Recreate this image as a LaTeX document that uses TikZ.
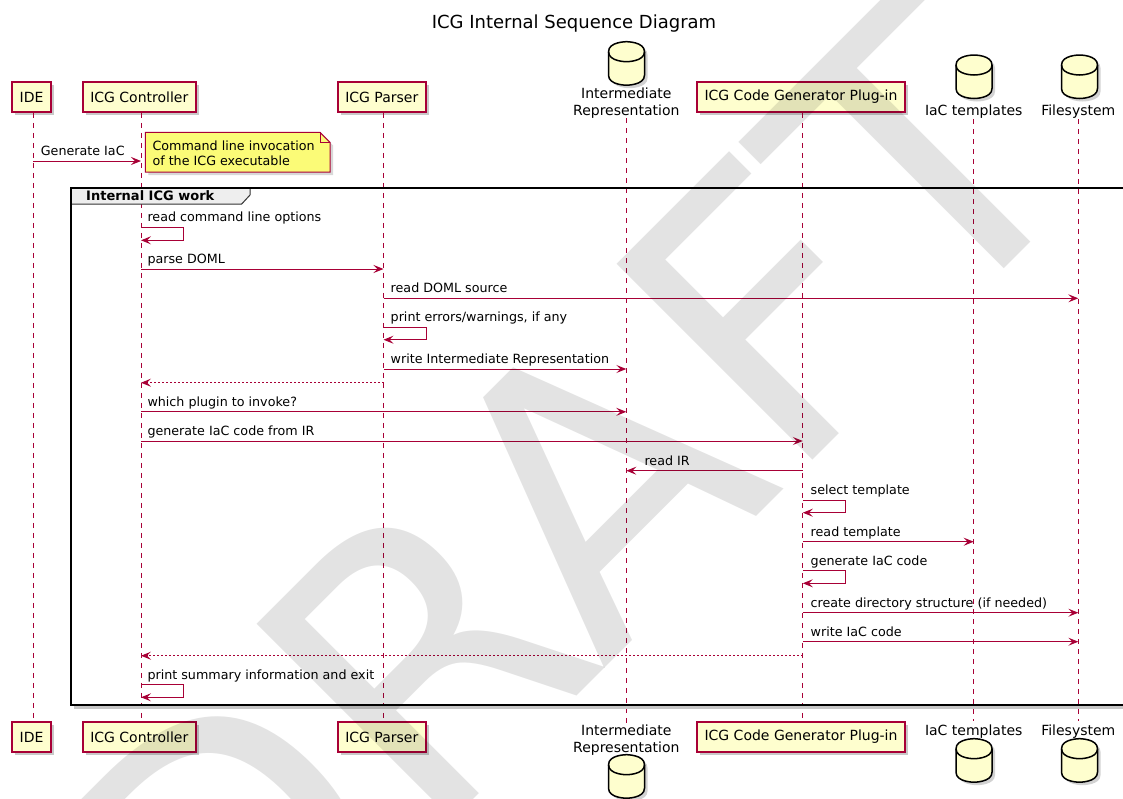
\documentclass[tikz,border=0pt]{standalone}
\usepackage{fontspec}
\setmainfont{DejaVu Sans}
\usetikzlibrary{arrows.meta,shadows}
\definecolor{pline}{HTML}{A80036}
\definecolor{pfill}{HTML}{FEFECE}
\definecolor{nfill}{HTML}{FBFB77}
\definecolor{tabfill}{HTML}{EEEEEE}
\newcommand\mydbshape[1]{\path[#1] (0,10) .. controls (0,0) and (18,0) .. (18,0) .. controls (18,0) and (36,0) .. (36,10) -- (36,33.5) .. controls (36,43.5) and (18,43.5) .. (18,43.5) .. controls (18,43.5) and (0,43.5) .. (0,33.5) -- cycle;}
\newcommand\mydb[2]{\begin{scope}[shift={(#1,#2)}]
 \begin{scope}[shift={(3,3)}]\mydbshape{fill=black!35,opacity=0.5}\end{scope}
 \mydbshape{fill=pfill,draw=black,line width=1.5pt}
 \draw[line width=1.5pt] (0,10) .. controls (0,20) and (18,20) .. (18,20) .. controls (18,20) and (36,20) .. (36,10);
\end{scope}}
\begin{document}
\begin{tikzpicture}[x=1pt,y=-1pt,
 part/.style={draw=pline,line width=1.5pt,fill=pfill,minimum height=30pt,inner xsep=7.5pt,inner ysep=0pt,font=\fontsize{14}{16.5}\selectfont,drop shadow={shadow xshift=3pt,shadow yshift=-3pt,opacity=0.35,fill=black!60}},
 dblabel/.style={inner sep=0pt,align=center,font=\fontsize{14}{16.5}\selectfont},
 msg/.style={draw=pline,line width=1pt,-{Stealth[length=10pt,width=8pt,inset=4pt]}},
 ret/.style={msg,dash pattern=on 2pt off 2pt},
 lbl/.style={anchor=base west,inner sep=0pt,font=\fontsize{12.7}{15}\selectfont},
 life/.style={draw=pline,line width=1pt,dash pattern=on 5pt off 5pt}]
\useasboundingbox (0,0) rectangle (1123,798);
\fill[white] (0,0) rectangle (1123,798);
\def\xA{33.3}\def\xB{141}\def\xC{383.5}\def\xD{626.3}\def\xE{802.8}\def\xF{973.7}\def\xG{1078.3}
% title
\node[anchor=base,inner sep=0pt,font=\fontsize{18}{20}\selectfont] (title) at (574,28) {ICG Internal Sequence Diagram};
% participants top
\node[part] (ideT) at (31.6,97) {IDE};
\node[part] (ctrlT) at (139.3,97) {ICG Controller};
\node[part] (parT) at (381.8,97) {ICG Parser};
\node[part] (plugT) at (801,97) {ICG Code Generator Plug-in};
\mydb{608.5}{41.7}
\mydb{956}{55}
\mydb{1061.5}{55}
\node[dblabel,anchor=north] (irT) at (\xD,88) {Intermediate\\Representation};
\node[dblabel,anchor=base] (iacT) at (\xF,115) {IaC templates};
\node[dblabel,anchor=base] (fsT) at (\xG,115) {Filesystem};
% participants bottom
\node[part] (ideB) at (31.6,737) {IDE};
\node[part] (ctrlB) at (139.3,737) {ICG Controller};
\node[part] (parB) at (381.8,737) {ICG Parser};
\node[part] (plugB) at (801,737) {ICG Code Generator Plug-in};
\node[dblabel,anchor=north] (irB) at (\xD,724.7) {Intermediate\\Representation};
\node[dblabel,anchor=base] (iacB) at (\xF,735.3) {IaC templates};
\node[dblabel,anchor=base] (fsB) at (\xG,735.3) {Filesystem};
\mydb{608.5}{754.7}
\mydb{956}{738.7}
\mydb{1061.5}{738.7}
% lifelines
\draw[life] ([xshift=1.7pt]ideT.south) -- ([xshift=1.7pt]ideB.north);
\draw[life] ([xshift=1.7pt]ctrlT.south) -- ([xshift=1.7pt]ctrlB.north);
\draw[life] ([xshift=1.7pt]parT.south) -- ([xshift=1.7pt]parB.north);
\draw[life] ([xshift=1.8pt]plugT.south) -- ([xshift=1.8pt]plugB.north);
\draw[life] (irT.south) -- (irB.north);
\draw[life] (iacT.south |- 0,119) -- (iacB.north |- 0,721);
\draw[life] (fsT.south |- 0,119) -- (fsB.north |- 0,721);
% group frame
\fill[black!22] (73.7,705) rectangle (1126,708.5);
\filldraw[fill=tabfill,draw=black!80,line width=1pt] (70.7,188.3) -- (250,188.3) -- (250,195) -- (241.7,204) -- (70.7,204) -- cycle;
\draw[line width=2pt] (70.7,188.3) rectangle (1126,705);
\node[anchor=base west,inner sep=0pt,font=\bfseries\fontsize{13}{15}\selectfont] (grplbl) at (86,200.5) {Internal ICG work};
% note
\path[fill=black!30,opacity=0.5] (148.3,135.3) -- (323,135.3) -- (333,145.3) -- (333,175) -- (148.3,175) -- cycle;
\filldraw[fill=nfill,draw=pline,line width=1pt] (145.3,132.3) -- (320,132.3) -- (330,142.3) -- (330,172) -- (145.3,172) -- cycle;
\draw[pline,line width=1pt] (320,132.3) -- (320,142.3) -- (330,142.3);
\node[anchor=north west,inner sep=0pt,align=left,font=\fontsize{12.7}{14.5}\selectfont] (notetext) at (152.3,140.9) {Command line invocation\\of the ICG executable};
% messages
\coordinate (a1) at (\xA,161); \coordinate (b1) at (\xB,161);
\draw[msg] (a1) -- (b1);
\node[lbl] (l1) at (40.7,155.5) {Generate IaC};
\coordinate (s2) at (\xB,227.7);
\draw[msg] (s2) -- ++(42.5,0) -- ++(0,12.6) -- ++(-42.5,0);
\node[lbl] (l2) at (147.3,221.8) {read command line options};
\coordinate (a3) at (\xB,269); \coordinate (b3) at (\xC,269);
\draw[msg] (a3) -- (b3);
\node[lbl] (l3) at (147.3,263.4) {parse DOML};
\coordinate (a4) at (\xC,298.3); \coordinate (b4) at (\xG,298.3);
\draw[msg] (a4) -- (b4);
\node[lbl] (l4) at (390.5,292.7) {read DOML source};
\coordinate (s5) at (\xC,327.3);
\draw[msg] (s5) -- ++(42.5,0) -- ++(0,12.4) -- ++(-42.5,0);
\node[lbl] (l5) at (390.5,321.6) {print errors/warnings, if any};
\coordinate (a6) at (\xC,369); \coordinate (b6) at (\xD,369);
\draw[msg] (a6) -- (b6);
\node[lbl] (l6) at (390.5,363.6) {write Intermediate Representation};
\coordinate (a7) at (\xC,382.7); \coordinate (b7) at (\xB,382.7);
\draw[ret] (a7) -- (b7);
\coordinate (a8) at (\xB,411.8); \coordinate (b8) at (\xD,411.8);
\draw[msg] (a8) -- (b8);
\node[lbl] (l8) at (147.3,406.2) {which plugin to invoke?};
\coordinate (a9) at (\xB,441); \coordinate (b9) at (\xE,441);
\draw[msg] (a9) -- (b9);
\node[lbl] (l9) at (147.3,435.4) {generate IaC code from IR};
\coordinate (a10) at (\xE,470.7); \coordinate (b10) at (\xD,470.7);
\draw[msg] (a10) -- (b10);
\node[lbl] (l10) at (644.3,465.1) {read IR};
\coordinate (s11) at (\xE,500);
\draw[msg] (s11) -- ++(42.5,0) -- ++(0,12.7) -- ++(-42.5,0);
\node[lbl] (l11) at (810.5,494.3) {select template};
\coordinate (a12) at (\xE,541.7); \coordinate (b12) at (\xF,541.7);
\draw[msg] (a12) -- (b12);
\node[lbl] (l12) at (810.5,536.1) {read template};
\coordinate (s13) at (\xE,570.7);
\draw[msg] (s13) -- ++(42.5,0) -- ++(0,12.6) -- ++(-42.5,0);
\node[lbl] (l13) at (810.5,565) {generate IaC code};
\coordinate (a14) at (\xE,612.7); \coordinate (b14) at (\xG,612.7);
\draw[msg] (a14) -- (b14);
\node[lbl] (l14) at (810.5,607.1) {create directory structure (if needed)};
\coordinate (a15) at (\xE,641.7); \coordinate (b15) at (\xG,641.7);
\draw[msg] (a15) -- (b15);
\node[lbl] (l15) at (810.5,636.1) {write IaC code};
\coordinate (a16) at (\xE,655.7); \coordinate (b16) at (\xB,655.7);
\draw[ret] (a16) -- (b16);
\coordinate (s17) at (\xB,684.7);
\draw[msg] (s17) -- ++(42.5,0) -- ++(0,12.6) -- ++(-42.5,0);
\node[lbl] (l17) at (147.3,679) {print summary information and exit};
% watermark
\begin{scope}
\clip (0,0) rectangle (1123,798);
\node[rotate=45,anchor=base west,inner sep=0pt,font=\fontsize{380}{380}\selectfont,text=black,text opacity=0.11] (wm) at (219.4,1053.7) {DRAFT};
\end{scope}
\end{tikzpicture}
\end{document}
